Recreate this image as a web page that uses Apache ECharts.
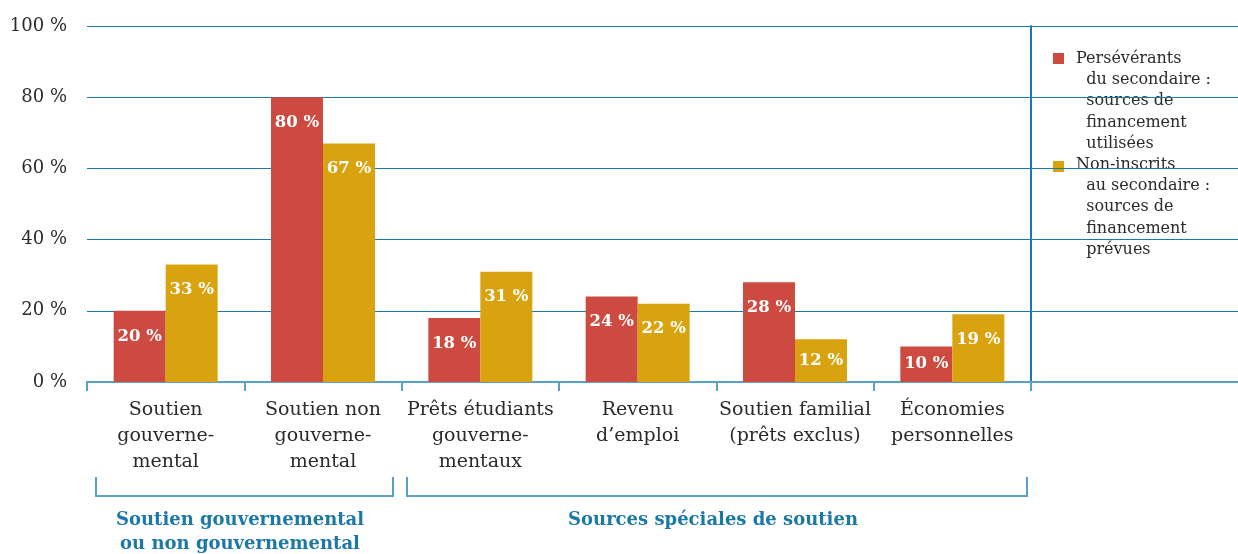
<!DOCTYPE html>
<html><head><meta charset="utf-8">
<script src="https://cdn.jsdelivr.net/npm/echarts@6/dist/echarts.min.js"></script>
<style>html,body{margin:0;padding:0;background:#fff}#c{width:1238px;height:554px}</style>
</head><body><div id="c"></div>
<script>
const categories = ["Soutien\ngouverne-\nmental","Soutien non\ngouverne-\nmental","Prêts étudiants\ngouverne-\nmentaux","Revenu\nd’emploi","Soutien familial\n(prêts exclus)","Économies\npersonnelles"];
const perseverants = [20, 80, 18, 24, 28, 10];
const nonInscrits = [33, 67, 31, 22, 12, 19];
const yTicks = [0, 20, 40, 60, 80, 100];
const seriesNames = ["Persévérants\n  du secondaire :\n  sources de\n  financement\n  utilisées","Non-inscrits\n  au secondaire :\n  sources de\n  financement\n  prévues"];
const groupLabels = ["Soutien gouvernemental\nou non gouvernemental","Sources spéciales de soutien"];

const FONT = "DejaVu Serif";
const RED = "#cc4a40", GOLD = "#d9a30f", GRIDC = "#1c77b0", AXC = "#5aa1c9", BLUE_T = "#1b78a8";

function mk(vals){
  return vals.map(v => ({value: v, label: v < 15 ? {position: 'inside'} : {}}));
}
const lbl = {show:true, position:'insideTop', distance:17, color:'#fff', fontFamily:FONT, fontWeight:'bold', fontSize:16.5, formatter: p => p.value + ' %'};

const chart = echarts.init(document.getElementById('c'), null, {renderer:'canvas'});
chart.setOption({
  animation:false,
  grid:[{left:87, right:207, top:26, bottom:172},{left:1031, right:0, top:26, bottom:172}],
  xAxis:[{type:'category', gridIndex:0, data:categories,
    axisLine:{lineStyle:{color:AXC, width:2}},
    axisTick:{show:true, length:9, lineStyle:{color:AXC, width:2}},
    axisLabel:{fontFamily:FONT, fontSize:19, color:'#2b2b2b', lineHeight:26, margin:15, interval:0}},
   {type:'category', gridIndex:1, data:[''], axisLine:{lineStyle:{color:AXC, width:2}}, axisTick:{show:false}, axisLabel:{show:false}}],
  yAxis:[{type:'value', gridIndex:0, min:0, max:100, interval:20,
    axisLine:{show:false}, axisTick:{show:false},
    splitLine:{lineStyle:{color:GRIDC, width:1.2}},
    axisLabel:{fontFamily:FONT, fontSize:18, color:'#2b2b2b', margin:20, formatter: v => yTicks.includes(v) ? v + ' %' : ''}},
   {type:'value', gridIndex:1, min:0, max:100, interval:20,
    axisLine:{show:true, lineStyle:{color:GRIDC, width:2}}, axisTick:{show:false}, axisLabel:{show:false},
    splitLine:{lineStyle:{color:GRIDC, width:1.2}}}],
  series:[
    {name:seriesNames[0], type:'bar', data:mk(perseverants), barWidth:52, barGap:'0%', itemStyle:{color:RED}, label:lbl},
    {name:seriesNames[1], type:'bar', data:mk(nonInscrits), barWidth:52, barGap:'0%', itemStyle:{color:GOLD}, label:lbl}
  ],
  graphic:[
    {type:'rect', shape:{x:1053,y:53,width:11,height:11}, style:{fill:RED}},
    {type:'text', left:1076, top:48, style:{text:seriesNames[0], font:'16px "DejaVu Serif"', fill:'#2b2b2b', lineHeight:21.3}},
    {type:'rect', shape:{x:1053,y:161,width:11,height:11}, style:{fill:GOLD}},
    {type:'text', left:1076, top:154, style:{text:seriesNames[1], font:'16px "DejaVu Serif"', fill:'#2b2b2b', lineHeight:21.3}},
    {type:'polyline', shape:{points:[[96,477],[96,496],[393,496],[393,477]]}, style:{stroke:AXC, lineWidth:2, fill:null}},
    {type:'polyline', shape:{points:[[407,477],[407,496],[1027,496],[1027,477]]}, style:{stroke:AXC, lineWidth:2, fill:null}},
    {type:'text', x:240, y:508, style:{text:groupLabels[0], font:'bold 18px "DejaVu Serif"', fill:BLUE_T, align:'center', lineHeight:24}},
    {type:'text', x:713, y:508, style:{text:groupLabels[1], font:'bold 18px "DejaVu Serif"', fill:BLUE_T, align:'center', lineHeight:24}}
  ]
});
</script></body></html>
